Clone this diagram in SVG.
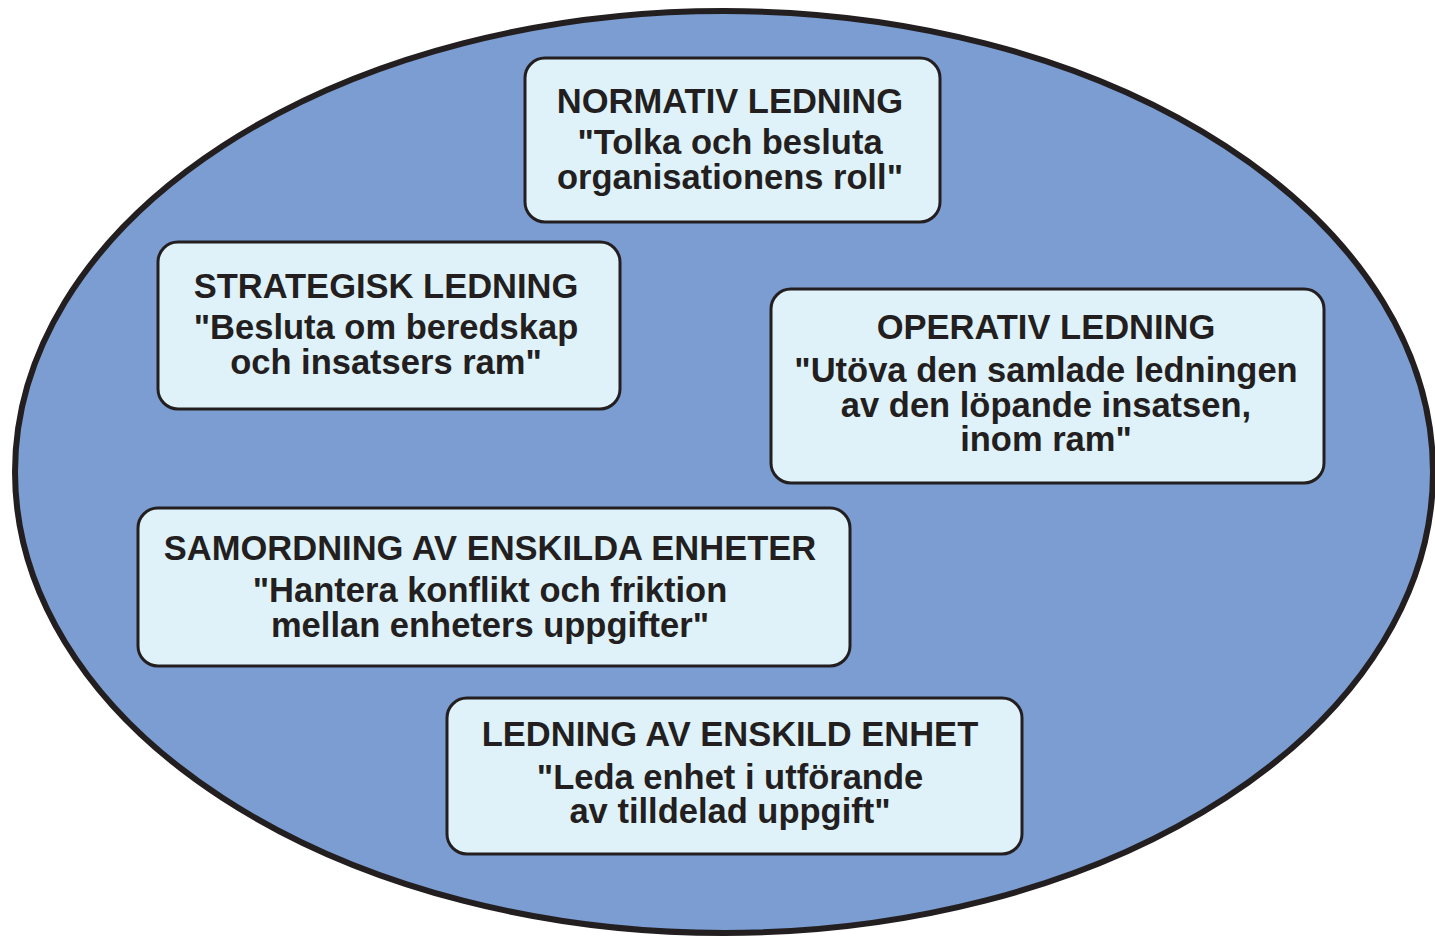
<svg xmlns="http://www.w3.org/2000/svg" width="1435" height="939" viewBox="0 0 1435 939">
  <style>
    .box { fill: #dff2fa; stroke: #231f20; stroke-width: 3; }
    .t { font-family: "Liberation Sans", Arial, sans-serif; font-weight: bold; font-size: 34.5px; fill: #231f20; text-anchor: middle; }
  </style>
  <rect width="1435" height="939" fill="#ffffff"/>
  <!-- outer field -->
  <ellipse id="field" cx="724" cy="472" rx="709" ry="461" fill="#7b9dd1" stroke="#231f20" stroke-width="6"/>

  <g id="normativ">
    <rect class="box" x="525" y="58" width="415" height="164" rx="20"/>
    <text class="t" x="730" y="113">NORMATIV LEDNING</text>
    <text class="t" x="730" y="154">"Tolka och besluta</text>
    <text class="t" x="730" y="189">organisationens roll"</text>
  </g>

  <g id="strategisk">
    <rect class="box" x="158" y="242" width="462" height="167" rx="20"/>
    <text class="t" x="386" y="298">STRATEGISK LEDNING</text>
    <text class="t" x="386" y="339">"Besluta om beredskap</text>
    <text class="t" x="386" y="374">och insatsers ram"</text>
  </g>

  <g id="operativ">
    <rect class="box" x="771" y="289" width="553" height="194" rx="20"/>
    <text class="t" x="1046" y="339">OPERATIV LEDNING</text>
    <text class="t" x="1046" y="382">"Utöva den samlade ledningen</text>
    <text class="t" x="1046" y="417">av den löpande insatsen,</text>
    <text class="t" x="1046" y="451">inom ram"</text>
  </g>

  <g id="samordning">
    <rect class="box" x="138" y="508" width="712" height="158" rx="20"/>
    <text class="t" x="490" y="560">SAMORDNING AV ENSKILDA ENHETER</text>
    <text class="t" x="490" y="602">"Hantera konflikt och friktion</text>
    <text class="t" x="490" y="637">mellan enheters uppgifter"</text>
  </g>

  <g id="enskild-enhet">
    <rect class="box" x="447" y="698" width="575" height="156" rx="20"/>
    <text class="t" x="730" y="746">LEDNING AV ENSKILD ENHET</text>
    <text class="t" x="730" y="789">"Leda enhet i utförande</text>
    <text class="t" x="730" y="823">av tilldelad uppgift"</text>
  </g>

  <g id="connectors"></g>
</svg>
